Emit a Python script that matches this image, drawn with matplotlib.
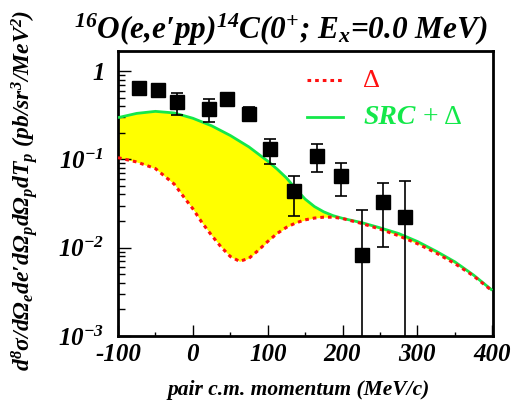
import numpy as np
import matplotlib
matplotlib.use("Agg")
import matplotlib.pyplot as plt
from matplotlib.ticker import FixedLocator, LogLocator, NullFormatter, FixedFormatter

# ---- data ----
data_x = [-72, -46, -21, 22, 46, 75.5, 103, 135, 166, 197.5, 226.5, 254.5, 283.5]
data_y = [0.639, 0.612, 0.440, 0.374, 0.485, 0.329, 0.1295, 0.044, 0.109, 0.0649, 0.00819, 0.0326, 0.0225]
data_hi = [0.639, 0.612, 0.566, 0.485, 0.485, 0.387, 0.171, 0.0649, 0.1475, 0.0918, 0.0269, 0.0537, 0.057]
data_lo = [0.639, 0.612, 0.321, 0.262, 0.485, 0.269, 0.0895, 0.0227, 0.072, 0.0381, 1e-6, 0.0102, 1e-6]

src_x = [-100, -75, -50, -25, 0, 25, 50, 75, 100, 112.5, 125, 137.5, 150, 162.5, 175, 187.5, 200, 212.5,
         225, 250, 275, 300, 325, 350, 375, 400]
src_log = [-0.528, -0.48, -0.457, -0.475, -0.535, -0.62, -0.73, -0.86, -1.02, -1.11, -1.21, -1.335, -1.45,
           -1.535, -1.595, -1.638, -1.668, -1.692, -1.715, -1.775, -1.84, -1.93, -2.04, -2.16, -2.31, -2.483]

delta_x = [-100, -75, -50, -25, -10, 0, 12.5, 25, 37.5, 50, 62.5, 75, 87.5, 100, 112.5, 125, 137.5, 150,
           162.5, 175, 187.5, 200, 225, 250, 275, 300, 325, 350, 375, 400]
delta_log = [-0.981, -1.03, -1.105, -1.28, -1.45, -1.56, -1.72, -1.86, -1.99, -2.10, -2.155, -2.12, -2.03,
             -1.93, -1.84, -1.77, -1.72, -1.685, -1.665, -1.655, -1.655, -1.67, -1.725, -1.79, -1.865,
             -1.955, -2.06, -2.18, -2.32, -2.49]

xticks = [-100, 0, 100, 200, 300, 400]
yticks = [1e-3, 1e-2, 1e-1, 1]
ytick_labels = [r"$10^{-3}$", r"$10^{-2}$", r"$10^{-1}$", r"$1\hspace{1.3}$"]

# ---- style ----
SERIF = "Liberation Serif"
plt.rcParams["font.family"] = [SERIF, "DejaVu Serif"]
plt.rcParams["font.weight"] = "bold"
plt.rcParams["font.style"] = "italic"
plt.rcParams["mathtext.fontset"] = "custom"
plt.rcParams["mathtext.rm"] = SERIF + ":bold:italic"
plt.rcParams["mathtext.it"] = SERIF + ":bold:italic"
plt.rcParams["mathtext.bf"] = SERIF + ":bold:italic"

GREEN = "#14e84a"
RED = "#ff1010"

fig = plt.figure(figsize=(5.14, 4.01), dpi=100)
ax = fig.add_axes([118 / 514, 1 - 336 / 401, (493 - 118) / 514, (336 - 51) / 401])

sx = np.array(src_x)
sy = 10 ** np.array(src_log)
dx = np.array(delta_x)
dy = 10 ** np.array(delta_log)

# fill between curves on the union of the given x values
allx = np.array(sorted(set(src_x) | set(delta_x)))
sy_i = 10 ** np.interp(allx, sx, src_log)
dy_i = 10 ** np.interp(allx, dx, delta_log)
ax.fill_between(allx, dy_i, sy_i, color="#ffff00", linewidth=0, zorder=1)

ax.plot(sx, sy, color=GREEN, lw=2.0, zorder=3, solid_capstyle="butt", solid_joinstyle="round")
ax.plot(dx, dy, color=RED, lw=2.2, ls=(0, (1.2, 1.3)), zorder=4)

dyv = np.array(data_y)
yerr = np.vstack([dyv - np.array(data_lo), np.array(data_hi) - dyv])
ax.errorbar(data_x, data_y, yerr=yerr, fmt="s", color="black", ms=10, mec="black",
            ecolor="black", elinewidth=1.2, capsize=4.5, capthick=1.2, zorder=5)

ax.set_yscale("log")
ax.set_xlim(-100, 401)
ax.set_ylim(1e-3, 1.684)

ax.xaxis.set_major_locator(FixedLocator(xticks))
ax.xaxis.set_minor_locator(FixedLocator([-50, 50, 150, 250, 350]))
ax.set_xticklabels([str(t) for t in xticks])
ax.yaxis.set_major_locator(FixedLocator(yticks))
ax.yaxis.set_major_formatter(FixedFormatter(ytick_labels))
ax.yaxis.set_minor_locator(LogLocator(base=10, subs=np.arange(2, 10)))
ax.yaxis.set_minor_formatter(NullFormatter())

ax.tick_params(axis="both", which="both", direction="in", top=False, right=False, width=1.0, color="black")
ax.tick_params(axis="x", which="major", length=8, labelsize=18, pad=5)
ax.tick_params(axis="x", which="minor", length=3)
ax.tick_params(axis="y", which="major", length=9, labelsize=18, pad=10)
ax.tick_params(axis="y", which="minor", length=5)
for lab in ax.get_xticklabels() + ax.get_yticklabels():
    lab.set_fontweight("bold")
    lab.set_fontstyle("italic")
for sp in ax.spines.values():
    sp.set_linewidth(2.0)

# legend drawn manually in axes-fraction coordinates
ax.plot([(307 - 118) / 375, (343 - 118) / 375], [1 - (80 - 51) / 285] * 2, transform=ax.transAxes,
        color=RED, lw=2.2, ls=(0, (1.2, 1.3)))
ax.plot([(307 - 118) / 375, (343 - 118) / 375], [1 - (117 - 51) / 285] * 2, transform=ax.transAxes,
        color=GREEN, lw=2.0)
ax.text((363 - 118) / 375, 1 - (81 - 51) / 285, "Δ", transform=ax.transAxes, color=RED,
        fontsize=19, fontweight="normal", fontstyle="normal", va="center", ha="left")
ax.text((364 - 118) / 375, 1 - (118 - 51) / 285, "SRC", transform=ax.transAxes, color=GREEN,
        fontsize=20, va="center", ha="left")
ax.text((423 - 118) / 375, 1 - (118 - 51) / 285, "+ Δ", transform=ax.transAxes, color=GREEN,
        fontsize=20, fontweight="normal", fontstyle="normal", va="center", ha="left")

fig.text(281 / 514, 1 - 30 / 401, r"$^{16}$O(e,e′pp)$^{14}$C(0$^{+}$; E$_{x}$=0.0 MeV)",
         ha="center", va="center", fontsize=22.5)
fig.text(299 / 514, 1 - 390 / 401, "pair c.m. momentum (MeV/c)", ha="center", va="center", fontsize=15.5)
fig.text(25 / 514, 1 - 190 / 401,
         r"d$^{8}$σ/dΩ$_{e}$de′dΩ$_{p}$dΩ$_{p}$dT$_{p}$ (pb/sr$^{3}$/MeV$^{2}$)",
         ha="center", va="center", rotation=90, fontsize=17)

fig.savefig("out.png", dpi=100)
